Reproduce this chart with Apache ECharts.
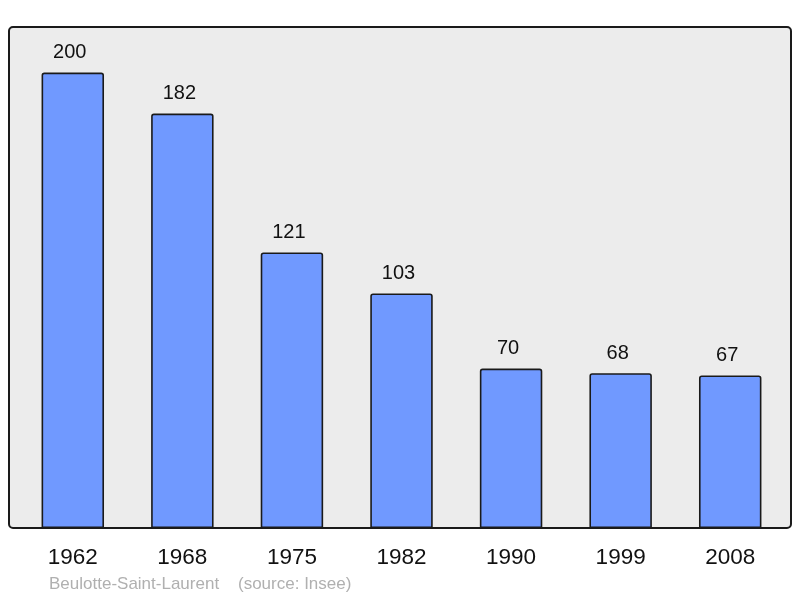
<!DOCTYPE html>
<html>
<head>
<meta charset="utf-8">
<script src="https://cdn.jsdelivr.net/npm/echarts@6/dist/echarts.min.js"></script>
<style>
  html, body { margin: 0; padding: 0; background: #fff; }
  #chart { width: 800px; height: 598px; }
</style>
</head>
<body>
<div id="chart"></div>
<script>
// population by census year
const years = ['1962', '1968', '1975', '1982', '1990', '1999', '2008']
const population = [200, 182, 121, 103, 70, 68, 67]

const chart = echarts.init(document.getElementById('chart'))

const option = {
  backgroundColor: '#ffffff',
  animation: false,
  grid: {
    left: 18,
    right: 15,
    top: 27,
    bottom: 70
  },
  graphic: [
    {
      type: 'rect',
      z: -10,
      shape: { x: 9, y: 27, width: 782, height: 501, r: 4 },
      style: { fill: '#ececec', stroke: '#1a1a1a', lineWidth: 2 }
    },
    {
      type: 'text',
      left: 49,
      top: 576,
      style: {
        text: 'Beulotte-Saint-Laurent    (source: Insee)',
        fill: '#b0b0b0',
        font: '17px "Liberation Sans", Arial, sans-serif'
      }
    }
  ],
  xAxis: {
    type: 'category',
    data: years,
    axisLine: { show: false },
    axisTick: { show: false },
    axisLabel: {
      color: '#111',
      fontSize: 22.5,
      fontFamily: '"Liberation Sans", Arial, sans-serif',
      margin: 18
    }
  },
  yAxis: {
    type: 'value',
    min: 0,
    max: 220,
    show: false,
    splitLine: { show: false }
  },
  series: [
    {
      type: 'bar',
      data: population,
      barWidth: '57%',
      itemStyle: {
        color: '#7099ff',
        borderColor: '#1a1a1a',
        borderWidth: 1.6,
        borderRadius: [2, 2, 0, 0]
      },
      label: {
        show: true,
        position: 'top',
        distance: 10,
        offset: [-3, 0],
        color: '#111',
        fontSize: 20,
        fontFamily: '"Liberation Sans", Arial, sans-serif'
      }
    }
  ]
}

chart.setOption(option)
</script>
</body>
</html>
